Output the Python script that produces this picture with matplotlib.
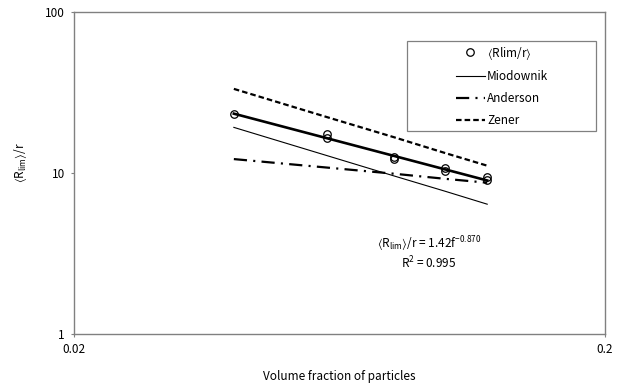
import matplotlib
matplotlib.use("Agg")
import matplotlib.pyplot as plt
import numpy as np
from matplotlib.patches import Rectangle
from matplotlib.ticker import FixedLocator, FixedFormatter, NullLocator

plt.rcParams['font.family'] = ['Noto Sans CJK JP', 'DejaVu Sans']
plt.rcParams['mathtext.fontset'] = 'custom'
plt.rcParams['mathtext.rm'] = 'Noto Sans CJK JP'
plt.rcParams['mathtext.it'] = 'Noto Sans CJK JP'
plt.rcParams['mathtext.bf'] = 'Noto Sans CJK JP'
plt.rcParams['mathtext.fallback'] = 'stixsans'
plt.rcParams['lines.scale_dashes'] = False

# measured limiting grain size vs particle volume fraction
f_exp = [0.04, 0.06, 0.06, 0.08, 0.08, 0.10, 0.10, 0.12, 0.12]
r_exp = [23.3, 17.4, 16.6, 12.6, 12.2, 10.7, 10.3, 9.5, 9.0]

# model predictions
f_model = [0.04, 0.06, 0.08, 0.10, 0.12]
miodownik = [19.2, 12.8, 9.6, 7.7, 6.4]
anderson = [12.2, 10.8, 9.9, 9.2, 8.7]
zener = [33.3, 22.2, 16.7, 13.3, 11.1]

# power-law fit  <Rlim>/r = a * f^b
fit_a = 1.42
fit_b = -0.870
fit_r2 = 0.995

xticks = [0.02, 0.2]
xticklabels = ['0.02', '0.2']
yticks = [1, 10, 100]
yticklabels = ['1', '10', '100']

LA, RA = r'$\langle$', r'$\rangle$'

fig = plt.figure(figsize=(6.26, 3.87), dpi=100)
ax = fig.add_axes([0.1182, 0.137, 0.8483, 0.832])

f_fit = np.linspace(min(f_exp), max(f_exp), 50)
ax.plot(f_fit, fit_a * f_fit ** fit_b, color='black', lw=1.9, zorder=3)

ax.plot(f_exp, r_exp, linestyle='none', marker='o', ms=5.4, mfc='none',
        mec='black', mew=0.9, label=LA + 'Rlim/r' + RA, zorder=4)
ax.plot(f_model, miodownik, color='black', lw=0.8, label='Miodownik')
ax.plot(f_model, anderson, color='black', lw=1.6,
        linestyle=(0, (9.5, 4.5, 1.5, 4.5)), label='Anderson')
ax.plot(f_model, zener, color='black', lw=1.6,
        linestyle=(0, (4.0, 2.2)), label='Zener')

ax.set_xscale('log')
ax.set_yscale('log')
ax.set_xlim(0.02, 0.2)
ax.set_ylim(1, 100)

ax.xaxis.set_major_locator(FixedLocator(xticks))
ax.xaxis.set_major_formatter(FixedFormatter(xticklabels))
ax.yaxis.set_major_locator(FixedLocator(yticks))
ax.yaxis.set_major_formatter(FixedFormatter(yticklabels))
ax.xaxis.set_minor_locator(NullLocator())
ax.yaxis.set_minor_locator(NullLocator())
ax.tick_params(axis='both', direction='out', length=2.5, width=0.8,
               color='#808080', labelsize=8.5, pad=4)

for sp in ax.spines.values():
    sp.set_color('#808080')
    sp.set_linewidth(1.0)

ax.set_xlabel('Volume fraction of particles', fontsize=8.5)
ax.set_ylabel(LA + 'R$_{\\mathrm{lim}}$' + RA + '/r', fontsize=8.5)
ax.xaxis.set_label_coords(0.5, -0.113)
ax.yaxis.set_label_coords(-0.085, 0.531)

ax.text(0.6686, 0.2795, LA + 'R$_{\\mathrm{lim}}$' + RA + '/r = %.2ff$^{%.3f}$' % (fit_a, fit_b),
        transform=ax.transAxes, ha='center', va='center', fontsize=8.5)
ax.text(0.6686, 0.2205, 'R$^{2}$ = %.3f' % fit_r2,
        transform=ax.transAxes, ha='center', va='center', fontsize=8.5)

# legend frame drawn separately so the entries sit centred inside it
ax.add_patch(Rectangle((0.628, 0.631), 0.355, 0.279, transform=ax.transAxes,
                       fill=False, edgecolor='#808080', lw=0.9, zorder=5))
ax.legend(loc='center', bbox_to_anchor=(0.806, 0.7705), frameon=False,
          fontsize=8.5, handlelength=2.5, handletextpad=0.15,
          labelspacing=0.75, borderpad=0)

fig.savefig('out.png', dpi=100)
